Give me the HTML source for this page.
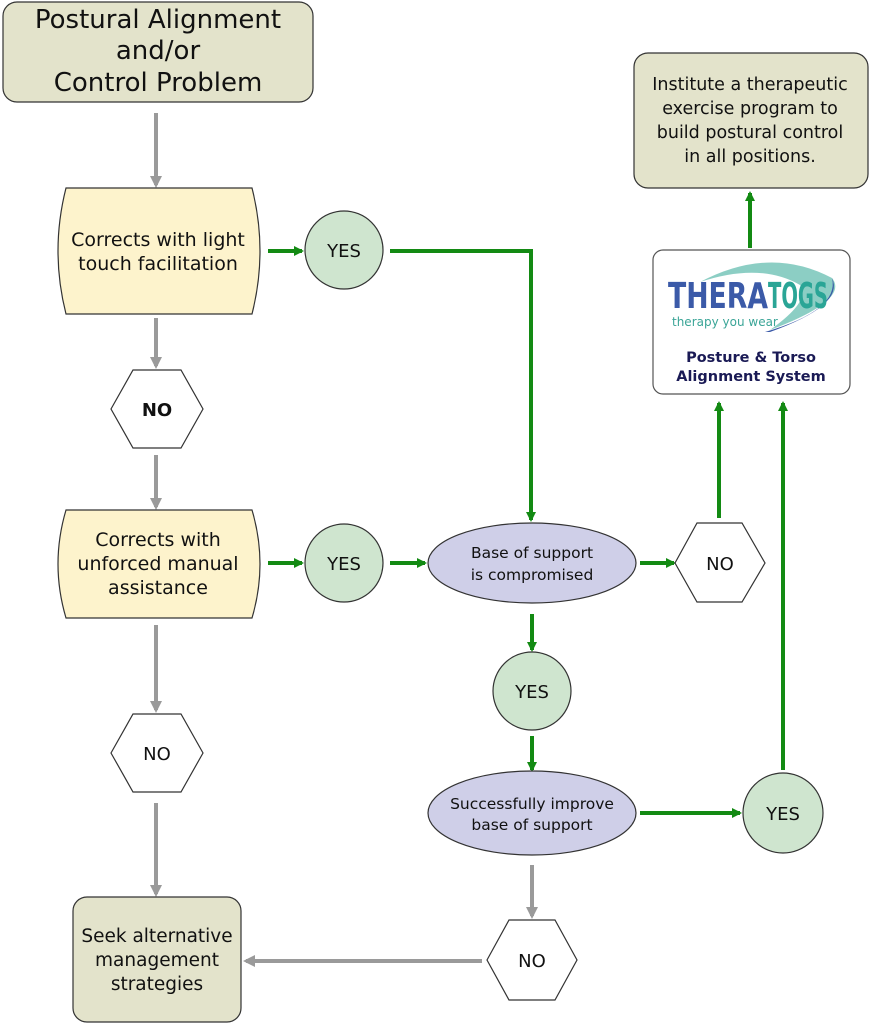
<!DOCTYPE html>
<html><head><meta charset="utf-8"><style>
html,body{margin:0;padding:0;background:#fff}
svg{display:block}
text{font-family:"DejaVu Sans","Liberation Sans",sans-serif;fill:#111}
</style></head><body>
<svg width="869" height="1024" viewBox="0 0 869 1024" xmlns="http://www.w3.org/2000/svg">
<defs>
<marker id="g" markerWidth="10" markerHeight="10" refX="8" refY="5" orient="auto" markerUnits="userSpaceOnUse"><path d="M0,0 L10,5 L0,10 z" fill="#138a13"/></marker>
<marker id="k" markerWidth="12" markerHeight="12" refX="9" refY="6" orient="auto" markerUnits="userSpaceOnUse"><path d="M0,0 L12,6 L0,12 z" fill="#9a9a9a"/></marker>
</defs>
<g stroke="#9a9a9a" stroke-width="4" fill="none" marker-end="url(#k)">
<line x1="156" y1="113" x2="156" y2="185"/>
<line x1="156" y1="318" x2="156" y2="366"/>
<line x1="156" y1="455" x2="156" y2="507"/>
<line x1="156" y1="625" x2="156" y2="710"/>
<line x1="156" y1="803" x2="156" y2="894"/>
<line x1="532" y1="865" x2="532" y2="916"/>
<line x1="482" y1="961" x2="246" y2="961"/>
</g>
<g stroke="#138a13" stroke-width="4" fill="none" marker-end="url(#g)">
<line x1="268" y1="251" x2="302" y2="251"/>
<polyline points="390,251 531,251 531,520"/>
<line x1="268" y1="563" x2="302" y2="563"/>
<line x1="390" y1="563" x2="425" y2="563"/>
<line x1="640" y1="563" x2="674" y2="563"/>
<line x1="719" y1="518" x2="719" y2="403"/>
<line x1="750" y1="248" x2="750" y2="193"/>
<line x1="532" y1="614" x2="532" y2="650"/>
<line x1="532" y1="736" x2="532" y2="770"/>
<line x1="640" y1="813" x2="740" y2="813"/>
<line x1="783" y1="770" x2="783" y2="403"/>
</g>
<rect x="3" y="2" width="310" height="100" rx="14" fill="#e3e3cb" stroke="#333" stroke-width="1.2"/>
<text x="158" y="28" font-size="26" text-anchor="middle">Postural Alignment</text>
<text x="158" y="59" font-size="26" text-anchor="middle">and/or</text>
<text x="158" y="91" font-size="26" text-anchor="middle">Control Problem</text>
<path d="M66,188 H252 Q268,251 252,314 H66 Q50,251 66,188 Z" fill="#fdf3cc" stroke="#333" stroke-width="1.2"/>
<text x="158" y="246" font-size="19" text-anchor="middle">Corrects with light</text>
<text x="158" y="270" font-size="19" text-anchor="middle">touch facilitation</text>
<path d="M66,510 H252 Q268,564 252,618 H66 Q50,564 66,510 Z" fill="#fdf3cc" stroke="#333" stroke-width="1.2"/>
<text x="158" y="546" font-size="19" text-anchor="middle">Corrects with</text>
<text x="158" y="570" font-size="19" text-anchor="middle">unforced manual</text>
<text x="158" y="594" font-size="19" text-anchor="middle">assistance</text>
<g fill="#cfe5cf" stroke="#333" stroke-width="1.2">
<circle cx="344" cy="250" r="39"/>
<circle cx="344" cy="563" r="39"/>
<circle cx="532" cy="691" r="39"/>
<circle cx="783" cy="813" r="40"/>
</g>
<g font-size="18" text-anchor="middle">
<text x="344" y="257">YES</text>
<text x="344" y="570">YES</text>
<text x="532" y="698">YES</text>
<text x="783" y="820">YES</text>
</g>
<g fill="#fff" stroke="#333" stroke-width="1.2">
<polygon points="111,409 133,370 181,370 203,409 181,448 133,448"/>
<polygon points="111,753 133,714 181,714 203,753 181,792 133,792"/>
<polygon points="675,563 697,523 742,523 765,563 742,602 697,602"/>
<polygon points="487,960 509,920 555,920 577,960 555,1000 509,1000"/>
</g>
<text x="157" y="416" font-size="18" font-weight="bold" text-anchor="middle">NO</text>
<text x="157" y="760" font-size="18" text-anchor="middle">NO</text>
<text x="720" y="570" font-size="18" text-anchor="middle">NO</text>
<text x="532" y="967" font-size="18" text-anchor="middle">NO</text>
<ellipse cx="532" cy="563" rx="104" ry="40" fill="#cfcfe8" stroke="#333" stroke-width="1.2"/>
<text x="532" y="558" font-size="15.5" text-anchor="middle">Base of support</text>
<text x="532" y="580" font-size="15.5" text-anchor="middle">is compromised</text>
<ellipse cx="532" cy="813" rx="104" ry="42" fill="#cfcfe8" stroke="#333" stroke-width="1.2"/>
<text x="532" y="809" font-size="15.5" text-anchor="middle">Successfully improve</text>
<text x="532" y="830" font-size="15.5" text-anchor="middle">base of support</text>
<rect x="634" y="53" width="234" height="135" rx="14" fill="#e3e3cb" stroke="#333" stroke-width="1.2"/>
<g font-size="17.5" text-anchor="middle">
<text x="750" y="90">Institute a therapeutic</text>
<text x="750" y="114">exercise program to</text>
<text x="750" y="138">build postural control</text>
<text x="750" y="162">in all positions.</text>
</g>
<rect x="653" y="250" width="197" height="144" rx="10" fill="#fff" stroke="#555" stroke-width="1.2"/>
<path d="M700,282 Q770,245 832,278 Q850,300 770,330 Q812,300 800,285 Q760,262 700,282 Z" fill="#6fc2b5" opacity="0.8"/>
<path d="M765,332 Q840,310 832,278 Q845,305 770,332 Z" fill="#3b5aa8"/>
<text x="668" y="308" font-size="36" font-weight="bold" style="fill:#3b5aa8" textLength="100" lengthAdjust="spacingAndGlyphs">THERA</text>
<text x="768" y="308" font-size="36" font-weight="bold" style="fill:#2aa596" textLength="60" lengthAdjust="spacingAndGlyphs">TOGS</text>
<text x="672" y="326" font-size="12" style="fill:#3aa597">therapy you wear</text>
<text x="751" y="362" font-size="14.5" font-weight="bold" text-anchor="middle" style="fill:#1a1a55">Posture &amp; Torso</text>
<text x="751" y="381" font-size="14.5" font-weight="bold" text-anchor="middle" style="fill:#1a1a55">Alignment System</text>
<rect x="73" y="897" width="168" height="125" rx="14" fill="#e3e3cb" stroke="#333" stroke-width="1.2"/>
<text x="157" y="942" font-size="18.5" text-anchor="middle">Seek alternative</text>
<text x="157" y="966" font-size="18.5" text-anchor="middle">management</text>
<text x="157" y="990" font-size="18.5" text-anchor="middle">strategies</text>
</svg>
</body></html>
